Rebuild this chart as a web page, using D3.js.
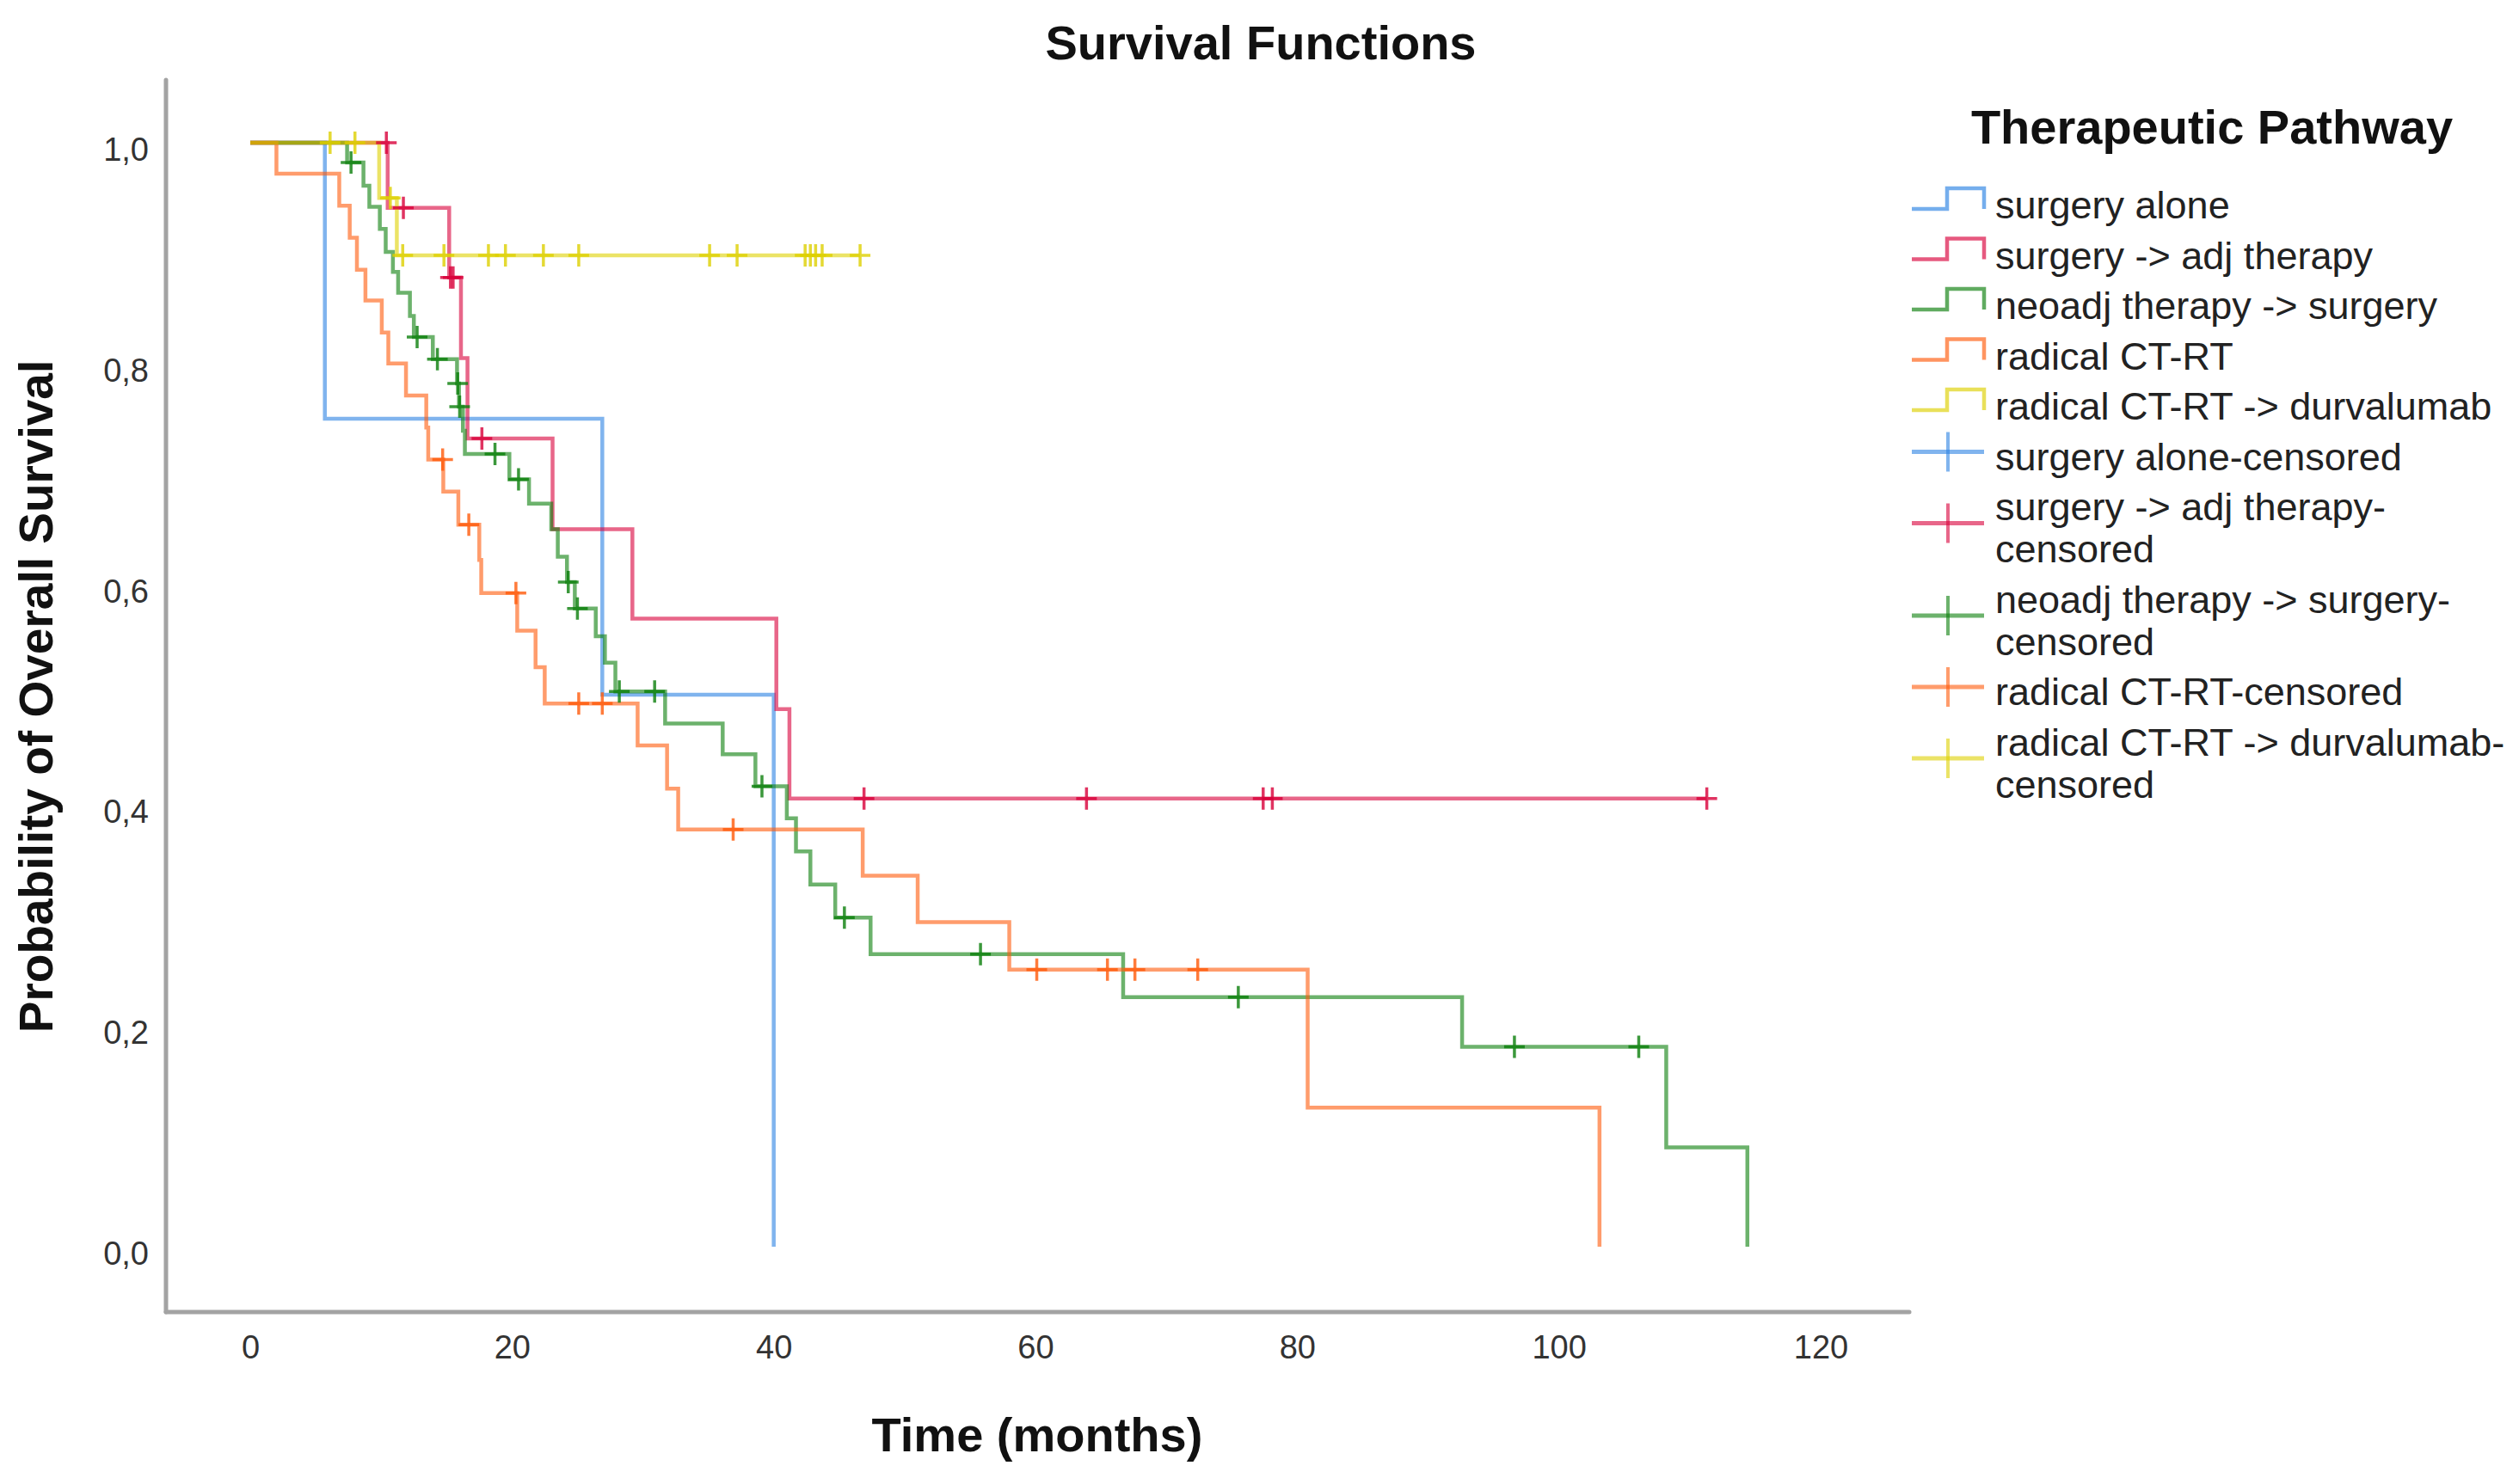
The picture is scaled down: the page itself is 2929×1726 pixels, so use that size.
<!DOCTYPE html>
<html>
<head>
<meta charset="utf-8">
<script src="https://cdn.jsdelivr.net/npm/d3@7/dist/d3.min.js"></script>
<style>
  html, body { margin: 0; padding: 0; background: #fff; }
  svg { display: block; font-family: "Liberation Sans", Arial, sans-serif; }
</style>
</head>
<body>
<svg id="chart" width="2929" height="1726"></svg>
<script>
// ---------------- DATA ----------------
const xTicks = [0, 20, 40, 60, 80, 100, 120];
const yTicks = [0, 0.2, 0.4, 0.6, 0.8, 1.0];
const yTickLabels = ["0,0", "0,2", "0,4", "0,6", "0,8", "1,0"];

const seriesNames = ["surgery alone", "surgery -> adj therapy", "neoadj therapy -> surgery", "radical CT-RT", "radical CT-RT -> durvalumab"];
const seriesColors = ["#2b82e3", "#d8003a", "#0a7e0a", "#ff5a0a", "#ddd000"];

// surgery alone
const blueTimes = [5.7, 26.9, 40.0];
const blueSurv  = [0.75, 0.50, 0.0];
const blueCens  = [];
const blueEnd   = 40.0;

// surgery -> adj therapy
const redTimes = [10.5, 15.2, 16.1, 16.6, 23.1, 29.2, 40.2, 41.2];
const redSurv  = [0.941, 0.878, 0.805, 0.732, 0.650, 0.569, 0.487, 0.406];
const redCens  = [10.4, 11.7, 15.3, 15.5, 17.7, 46.9, 63.9, 77.4, 78.1, 111.3];
const redEnd   = 111.3;

// neoadj therapy -> surgery
const greenTimes = [7.4, 8.65, 9.1, 9.9, 10.35, 10.9, 11.3, 12.2, 12.5, 13.95, 15.8, 15.95, 16.25, 16.4, 19.8, 21.3, 23.0, 23.5, 24.2, 24.8, 26.4, 27.1, 27.9, 31.7, 36.1, 38.6, 41.0, 41.7, 42.8, 44.7, 47.4, 66.7, 92.6, 108.2, 114.4];
const greenSurv  = [0.982, 0.961, 0.942, 0.922, 0.901, 0.883, 0.864, 0.843, 0.824, 0.804, 0.782, 0.761, 0.739, 0.718, 0.695, 0.673, 0.650, 0.625, 0.602, 0.578, 0.553, 0.529, 0.503, 0.474, 0.446, 0.417, 0.388, 0.358, 0.328, 0.298, 0.265, 0.226, 0.181, 0.090, 0.0];
const greenCens  = [7.7, 12.75, 14.3, 15.85, 16.0, 18.7, 20.5, 24.3, 25.0, 28.2, 30.9, 39.1, 45.4, 55.8, 75.5, 96.6, 106.1];
const greenEnd   = 114.4;

// radical CT-RT
const orangeTimes = [2.0, 6.8, 7.6, 8.15, 8.8, 10.05, 10.55, 11.9, 13.45, 13.6, 14.75, 15.9, 17.5, 17.65, 20.4, 21.8, 22.5, 29.6, 31.85, 32.7, 46.8, 51.0, 58.0, 80.8, 103.1];
const orangeSurv  = [0.972, 0.943, 0.914, 0.885, 0.857, 0.828, 0.800, 0.771, 0.742, 0.713, 0.684, 0.654, 0.622, 0.592, 0.558, 0.525, 0.492, 0.454, 0.415, 0.378, 0.336, 0.294, 0.251, 0.126, 0.0];
const orangeCens  = [14.7, 16.7, 20.3, 25.1, 26.9, 36.9, 60.1, 65.5, 67.6, 72.4];
const orangeEnd   = 103.1;

// radical CT-RT -> durvalumab
const yellowTimes = [9.85, 11.2];
const yellowSurv  = [0.950, 0.898];
const yellowCens  = [6.1, 8.0, 10.7, 11.65, 14.8, 18.2, 19.5, 22.4, 25.1, 35.1, 37.2, 42.4, 42.8, 43.2, 43.7, 46.6];
const yellowEnd   = 46.6;

const legendLines = [
  ["surgery alone"],
  ["surgery -> adj therapy"],
  ["neoadj therapy -> surgery"],
  ["radical CT-RT"],
  ["radical CT-RT -> durvalumab"],
  ["surgery alone-censored"],
  ["surgery -> adj therapy-", "censored"],
  ["neoadj therapy -> surgery-", "censored"],
  ["radical CT-RT-censored"],
  ["radical CT-RT -> durvalumab-", "censored"]
];

// ---------------- BUILD ----------------
const series = [
  {times: blueTimes, surv: blueSurv, cens: blueCens, end: blueEnd},
  {times: redTimes, surv: redSurv, cens: redCens, end: redEnd},
  {times: greenTimes, surv: greenSurv, cens: greenCens, end: greenEnd},
  {times: orangeTimes, surv: orangeSurv, cens: orangeCens, end: orangeEnd},
  {times: yellowTimes, surv: yellowSurv, cens: yellowCens, end: yellowEnd}
].map((s, i) => ({...s, name: seriesNames[i], color: seriesColors[i]}));

const svg = d3.select("#chart");

const x = d3.scaleLinear().domain([0, 120]).range([291, 2117]);
const y = d3.scaleLinear().domain([0, 1]).range([1450, 166]);

const axisLeftX = 193, axisBottomY = 1526;

// frame lines
svg.append("line").attr("x1", axisLeftX).attr("x2", axisLeftX).attr("y1", 93).attr("y2", axisBottomY)
  .attr("stroke", "#a3a3a3").attr("stroke-width", 5).attr("stroke-linecap", "round");
svg.append("line").attr("x1", axisLeftX).attr("x2", 2220).attr("y1", axisBottomY).attr("y2", axisBottomY)
  .attr("stroke", "#a3a3a3").attr("stroke-width", 5).attr("stroke-linecap", "round");

// axes (labels only)
const gx = svg.append("g").attr("transform", `translate(0,${axisBottomY})`)
  .call(d3.axisBottom(x).tickValues(xTicks).tickSize(0).tickPadding(27).tickFormat(d3.format("d")));
gx.select(".domain").remove();
gx.selectAll("text").attr("font-size", 38).attr("fill", "#333").attr("font-family", "Liberation Sans, Arial, sans-serif");

const gy = svg.append("g").attr("transform", `translate(${axisLeftX},0)`)
  .call(d3.axisLeft(y).tickValues(yTicks).tickSize(0).tickPadding(20).tickFormat((d, i) => yTickLabels[i]));
gy.select(".domain").remove();
gy.selectAll("text").attr("font-size", 38).attr("fill", "#333").attr("dy", "0.54em").attr("font-family", "Liberation Sans, Arial, sans-serif");

// titles
svg.append("text").attr("x", 1466).attr("y", 69).attr("text-anchor", "middle")
  .attr("font-size", 56).attr("font-weight", "bold").attr("fill", "#111").text("Survival Functions");
svg.append("text").attr("x", 1206).attr("y", 1688).attr("text-anchor", "middle")
  .attr("font-size", 56).attr("font-weight", "bold").attr("fill", "#111").text("Time (months)");
svg.append("text").attr("transform", "translate(61,810) rotate(-90)").attr("text-anchor", "middle")
  .attr("font-size", 55).attr("font-weight", "bold").attr("fill", "#111").text("Probability of Overall Survival");

// curves
function survAt(s, t) {
  let v = 1;
  for (let i = 0; i < s.times.length; i++) { if (s.times[i] <= t) v = s.surv[i]; }
  return v;
}
const line = d3.line().x(d => x(d[0])).y(d => y(d[1])).curve(d3.curveStepAfter);
const plot = svg.append("g");
series.forEach(s => {
  const pts = [[0, 1]];
  s.times.forEach((t, i) => pts.push([t, s.surv[i]]));
  const last = s.surv.length ? s.surv[s.surv.length - 1] : 1;
  pts.push([s.end, last]);
  plot.append("path").attr("d", line(pts)).attr("fill", "none")
    .attr("stroke", s.color).attr("stroke-width", 4.5).attr("stroke-opacity", 0.6)
    .attr("stroke-linejoin", "miter");
});
series.forEach(s => {
  plot.selectAll(null).data(s.cens).enter().append("path")
    .attr("d", t => {
      const cx = x(t), cy = y(survAt(s, t));
      return `M${cx - 12},${cy}H${cx + 12}M${cx},${cy - 13}V${cy + 13}`;
    })
    .attr("fill", "none").attr("stroke", s.color).attr("stroke-width", 3.5).attr("stroke-opacity", 0.8);
});

// legend
svg.append("text").attr("x", 2572).attr("y", 167).attr("text-anchor", "middle")
  .attr("font-size", 56).attr("font-weight", "bold").attr("fill", "#111").text("Therapeutic Pathway");

const lg = svg.append("g");
let base = 254;
legendLines.forEach((lines, i) => {
  if (i > 0) base += 58.5;
  const first = base;
  lines.forEach((ln, j) => {
    if (j > 0) base += 49;
    lg.append("text").attr("x", 2320).attr("y", base).attr("font-size", 45).attr("fill", "#222").text(ln);
  });
  const color = seriesColors[i % 5];
  if (i < 5) {
    lg.append("path").attr("d", `M2223,${first - 11}H2264V${first - 35}H2307V${first - 11}`)
      .attr("fill", "none").attr("stroke", color).attr("stroke-width", 4.5).attr("stroke-opacity", 0.65);
  } else {
    const cy = (first + base) / 2 - 21;
    lg.append("path").attr("d", `M2223,${cy}H2307`).attr("fill", "none").attr("stroke", color)
      .attr("stroke-width", 5).attr("stroke-opacity", 0.6);
    lg.append("path").attr("d", `M2265,${cy - 23}V${cy + 23}`).attr("fill", "none").attr("stroke", color)
      .attr("stroke-width", 4).attr("stroke-opacity", 0.6);
  }
});
</script>
</body>
</html>
